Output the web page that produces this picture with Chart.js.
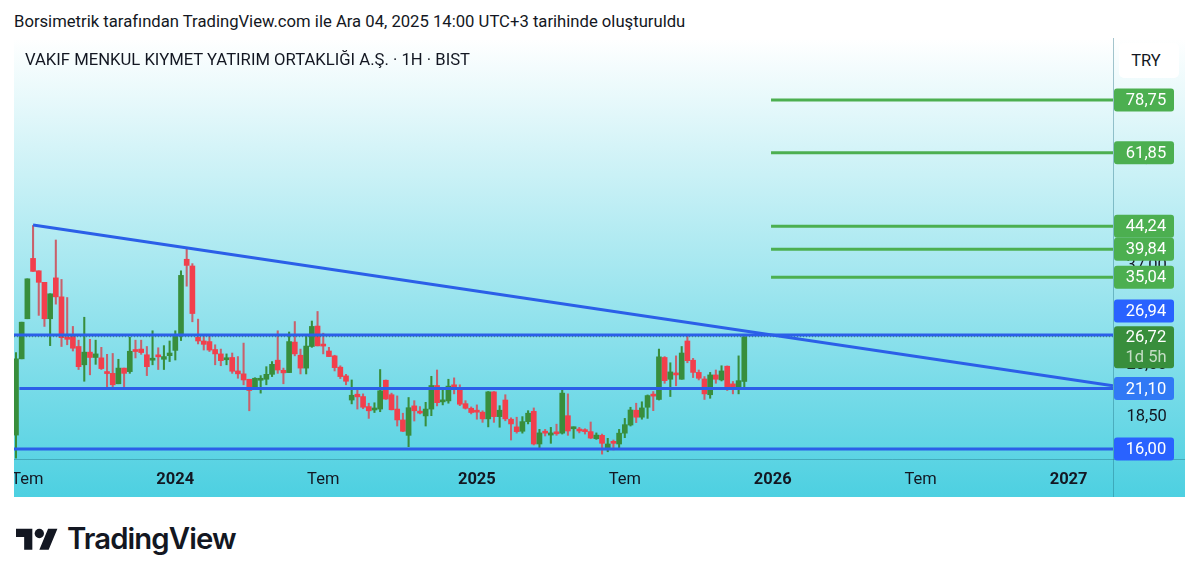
<!DOCTYPE html>
<html lang="tr">
<head>
<meta charset="utf-8">
<title>VAKIF MENKUL KIYMET YATIRIM ORTAKLIĞI A.Ş.</title>
<script src="https://cdn.jsdelivr.net/npm/chart.js@4/dist/chart.umd.min.js"></script>
<style>
    html, body { margin: 0; padding: 0; background: #fff; overflow: hidden; }
    body { width: 1199px; height: 581px; position: relative; font-family: Roboto, sans-serif; color: #131722; }
    #credit { position: absolute; left: 14px; top: 12px; font-size: 16.67px; line-height: 19px; white-space: nowrap; }
    #panel { position: absolute; left: 14px; top: 38px; width: 1171px; height: 459px; background: linear-gradient(#ffffff, #4dd0e1); }
    #symbol { position: absolute; left: 25px; top: 50px; font-size: 16.67px; line-height: 19px; white-space: nowrap; }
    #currency { position: absolute; left: 1119px; top: 43px; width: 54px; padding-right: 6px; height: 35px; line-height: 35px; text-align: center;
                font-size: 16.5px; background: #fff; border-radius: 5px; }
    #logo { position: absolute; left: 16px; top: 523.5px; }
    #brand { position: absolute; left: 67px; top: 521px; font-family: Inter, sans-serif; font-weight: 600; font-size: 29.3px; line-height: 36px;
             letter-spacing: -0.9px; color: #131722; white-space: nowrap; }
</style>
</head>
<body>
<div id="credit">Borsimetrik tarafından TradingView.com ile Ara 04, 2025 14:00 UTC+3 tarihinde oluşturuldu</div>
<div id="panel"><canvas id="chart" width="1171" height="459"></canvas></div>
<div id="symbol">VAKIF MENKUL KIYMET YATIRIM ORTAKLIĞI A.Ş. · 1H · BIST</div>
<div id="currency">TRY</div>
<svg id="logo" width="42" height="33" viewBox="0 0 36 28"><path fill="#131722" d="M14 22H7V11H0V4h14v18zM28 22h-8l7.5-18h8L28 22z"/><circle fill="#131722" cx="20" cy="8" r="4"/></svg>
<div id="brand">TradingView</div>

<script>
// weekly candles
const opens = [17.05,24.15,29,38.2,36.1,34.25,29,34.95,32.05,26.6,26.83,25.55,23.5,24.9,24.3,24.26,22.65,22.6,21.55,23.15,
    22.78,25.1,25.25,24.6,24,24.48,24.1,24.5,25.1,26.83,38.05,36.9,26.65,26.2,26.13,25.2,24.7,24.05,24.3,22.85,
    22.55,22,21,21.9,22,22.5,24,22.92,22.68,26.07,24.55,23.15,25.55,28.05,25.75,25.03,24.48,23.25,22.34,20.01,
    20.55,20.33,19.42,19.12,19.2,21.9,20.5,19.2,18.27,17.03,19.48,18.97,18.61,19.2,21.38,19.84,19.93,21.45,21,19.68,
    19.27,19,18.93,18.36,20.77,18.55,20.01,18.33,17.7,17.35,18.13,19,16.37,17.29,17.05,17.29,17.2,18.63,17.55,17.5,
    17.42,17.32,16.77,17.03,16.02,16.5,16.37,17.2,17.85,19.1,18.5,19.36,20.48,20.06,24.3,22,22.54,22,26.2,24,
    22.7,22.03,20.5,22.44,21.93,23.35,21.54,21.12,21.78];
const highs = [24.85,28.55,34.8,44.4,36.1,34.25,32.5,41.55,34.7,31.95,28,26.3,29.2,26.4,26.3,25.45,24.65,24.75,24.1,23.15,
    26.65,26.3,26.3,25.55,27.45,25.4,25.65,26.2,27.45,36.1,40,37.3,28.95,26.75,26.75,25.75,25.25,24.7,24.8,24.4,
    25.95,22,22.15,22.37,23.3,23.85,27.45,23.15,27.3,28.63,25.25,26.83,28.7,29.98,27.15,25.45,24.55,23.4,22.5,21.93,
    21,20.58,19.72,19.76,23,21.93,20.65,20.39,18.84,20.24,19.95,19.42,19.8,22.3,22.95,21.18,22,22.14,21.45,19.95,
    19.39,19.57,19.05,20.8,20.8,19.5,20.5,18.45,18.5,18.55,19.06,19.3,17.5,17.5,17.66,17.92,21,20.58,17.7,17.66,
    17.55,18.1,17.22,17.13,16.8,16.67,17.5,18.4,19.36,19.72,19.85,20.48,20.8,25.25,24.4,23.72,24.48,25.55,26.85,24.2,
    22.95,22.27,22.7,22.95,23.4,23.38,21.78,24.48,26.72];
const lows = [15.35,24.15,29,36,29.45,28,25.65,31,25.55,25.75,25.03,23,21.8,22.45,23.55,23,21.1,21,21.55,21.2,
    22.6,24.25,24.65,22.37,23.5,23,23,23.85,24.02,26.25,33.65,28.6,25.85,25.14,24.97,23.5,23.4,23.5,22.6,22.1,
    21.45,19.05,21,20.65,21.45,22.27,22.6,21.55,22.68,24.48,22.54,22.54,25.45,25.62,24.7,24.4,22.85,22.07,21.45,19.66,
    19.2,19.23,18.4,18.9,18.97,20.06,19.12,17.77,17.32,16.17,18.18,18.78,17.77,18.63,19.48,19.57,19.72,20.58,19.5,19.2,
    18.78,18.33,18.07,17.7,18.07,17.67,18.2,16.67,17.2,17.2,17.94,16.3,16.1,16.98,16.42,17.03,17.13,17.03,16.8,17.22,
    17.13,16.77,16.72,15.63,15.8,15.93,16.05,16.85,17.77,18.05,18.33,18.4,19.06,20.01,21.6,20.33,21.35,22,23.72,22.17,
    21.93,20.06,20.17,21.6,21.83,20.9,20.58,20.58,21.18];
const closes = [24.15,28.55,34.8,36,34.25,29,32.5,32.05,26.6,26.4,25.35,23.3,24.9,24.3,24.7,23.1,22.58,21.45,23.15,22.6,
    25,24.97,24.85,23.3,24.15,24.37,24.4,24.8,26.83,35.35,37,29.7,26.2,25.8,25.14,24.7,23.95,24.15,22.82,22.55,
    21.93,20.9,22.1,22,22.5,23.55,22.95,22.65,26.13,24.7,23.15,25.6,28,25.62,25.6,24.4,23.2,22.27,21.8,20.45,
    20.3,19.36,19.05,19.2,20.87,20.1,19.14,18.27,17.35,19.32,19.05,18.85,19.2,21.38,19.77,19.93,21.32,21.12,19.63,19.27,
    18.9,18.93,18.36,20.77,18.55,19.1,18.36,17.94,17.32,18.13,18.84,16.37,17.22,17.2,17.22,17.15,20.65,17.37,17.63,17.37,
    17.32,16.82,17.05,16.42,16.37,16.42,17.2,17.88,19.12,18.5,19.3,20.42,20.37,24.37,21.86,22.75,22.44,24.8,23.95,22.7,
    22.1,20.58,22.44,22,22.85,21.12,21.12,21.86,26.72];

// drawn levels
const targetPrices = [78.75, 61.85, 44.24, 39.84, 35.04];
const supportPrices = [26.94, 21.10, 16.00];
const lastPrice = 26.72;
const trendIndex = [3, 192.8];
const trendPrice = [44.5, 21.35];

// axes
const timeTicks = [2, 28, 54, 81, 107, 133, 159, 185];
const timeLabels = ['Tem', '2024', 'Tem', '2025', 'Tem', '2026', 'Tem', '2027'];
const priceTicks = [18.5, 23.5, 37, 60.5];

const green = '#388e3c';
const red = '#f23f4c';
const redWick = '#c9606b';
const blue = '#2962ff';
const lineBlue = '#2b5fe8';
const lineGreen = '#4caf50';
const sep = 'rgba(30, 110, 130, 0.4)';
const xMin = -0.35, xMax = 192.8;

const fmt = v => v.toFixed(2).replace('.', ',');
const isUp = i => closes[i] >= opens[i];
const hline = (price, start, color, width, order) => ({
    type: 'line',
    data: [{ x: start, y: price }, { x: xMax, y: price }],
    borderColor: color,
    borderWidth: width,
    pointRadius: 0,
    order: order
});
// chart.js insets the plot for overhanging tick labels, the reference has no such inset
const noInset = axis => { axis.paddingLeft = axis.paddingRight = axis.paddingTop = axis.paddingBottom = 0; };

// price tags and panel separators on top of the axis
const tagPlugin = {
    id: 'tags',
    afterDraw(chart) {
        const ctx = chart.ctx;
        const y = chart.scales.y;
        const area = chart.chartArea;
        ctx.save();
        ctx.strokeStyle = sep;
        ctx.lineWidth = 1;
        ctx.beginPath();
        ctx.moveTo(area.right + 0.5, 0);
        ctx.lineTo(area.right + 0.5, chart.height);
        ctx.moveTo(0, area.bottom + 0.5);
        ctx.lineTo(chart.width, area.bottom + 0.5);
        ctx.stroke();

        const tag = (cy, h, color, rows) => {
            ctx.fillStyle = color;
            ctx.beginPath();
            ctx.roundRect(area.right + 1, cy - h / 2, 60, h, 3);
            ctx.fill();
            ctx.textAlign = 'center';
            ctx.textBaseline = 'middle';
            ctx.font = '16.5px Roboto';
            rows.forEach((r, i) => {
                ctx.fillStyle = i ? 'rgba(255,255,255,0.7)' : '#fff';
                ctx.fillText(r, area.right + 33, cy + 1 + (i - (rows.length - 1) / 2) * 20);
            });
        };
        targetPrices.forEach(p => tag(y.getPixelForValue(p), 23, lineGreen, [fmt(p)]));
        // the two tags at the last price get pushed apart
        tag(y.getPixelForValue(supportPrices[0]) - 24, 23, blue, [fmt(supportPrices[0])]);
        tag(y.getPixelForValue(lastPrice) + 10.5, 42, green, [fmt(lastPrice), '1d 5h']);
        tag(y.getPixelForValue(supportPrices[1]), 23, '#3179f5', [fmt(supportPrices[1])]);
        tag(y.getPixelForValue(supportPrices[2]), 23, blue, [fmt(supportPrices[2])]);
        ctx.restore();
    }
};

new Chart(document.getElementById('chart'), {
    type: 'bar',
    data: {
        datasets: [
            hline(targetPrices[0], 132.7, lineGreen, 3, 0),
            hline(targetPrices[1], 132.7, lineGreen, 3, 0),
            hline(targetPrices[2], 132.7, lineGreen, 3, 0),
            hline(targetPrices[3], 132.7, lineGreen, 3, 0),
            hline(targetPrices[4], 132.7, lineGreen, 3, 0),
            hline(supportPrices[0], xMin, lineBlue, 3, 0),
            hline(supportPrices[1], 0.6, lineBlue, 3, 0),
            hline(supportPrices[2], xMin, lineBlue, 3, 0),
            {
                type: 'line',
                data: trendIndex.map((x, i) => ({ x: x, y: trendPrice[i] })),
                borderColor: lineBlue,
                borderWidth: 3,
                pointRadius: 0,
                order: 0
            },
            {
                type: 'line',
                data: [{ x: xMin, y: lastPrice }, { x: xMax, y: lastPrice }],
                borderColor: green,
                borderWidth: 1,
                borderDash: [1, 2],
                pointRadius: 0,
                order: 0
            },
            {
                data: opens.map((o, i) => ({ x: i, y: [o, closes[i]] })),
                backgroundColor: opens.map((o, i) => isUp(i) ? green : red),
                barThickness: 5,
                minBarLength: 2,
                grouped: false,
                order: 1
            },
            {
                data: opens.map((o, i) => ({ x: i, y: [lows[i], highs[i]] })),
                backgroundColor: opens.map((o, i) => isUp(i) ? green : redWick),
                barThickness: 1.4,
                grouped: false,
                order: 2
            }
        ]
    },
    options: {
        responsive: false,
        animation: false,
        layout: { padding: 0 },
        plugins: { legend: { display: false }, tooltip: { enabled: false } },
        scales: {
            x: {
                type: 'linear',
                min: xMin,
                max: xMax,
                offset: false,
                grid: { display: false, drawTicks: false },
                border: { display: false },
                afterBuildTicks: axis => { axis.ticks = timeTicks.map(v => ({ value: v })); },
                afterFit: axis => { axis.height = 38; noInset(axis); },
                ticks: {
                    autoSkip: false,
                    maxRotation: 0,
                    padding: 11,
                    color: '#131722',
                    font: ctx => ({ family: 'Roboto', size: 16.5, weight: ctx.index % 2 ? 'bold' : 'normal' }),
                    callback: v => timeLabels[timeTicks.indexOf(v)]
                }
            },
            y: {
                type: 'logarithmic',
                position: 'right',
                min: 15.286,
                max: 104.5,
                bounds: 'data',
                grid: { display: false, drawTicks: false },
                border: { display: false },
                afterBuildTicks: axis => { axis.ticks = priceTicks.map(v => ({ value: v })); },
                afterFit: axis => { axis.width = 72; noInset(axis); },
                ticks: {
                    autoSkip: false,
                    padding: 13.5,
                    color: '#131722',
                    font: { family: 'Roboto', size: 16.5 },
                    callback: v => fmt(v)
                }
            }
        }
    },
    plugins: [tagPlugin]
});
</script>
</body>
</html>
